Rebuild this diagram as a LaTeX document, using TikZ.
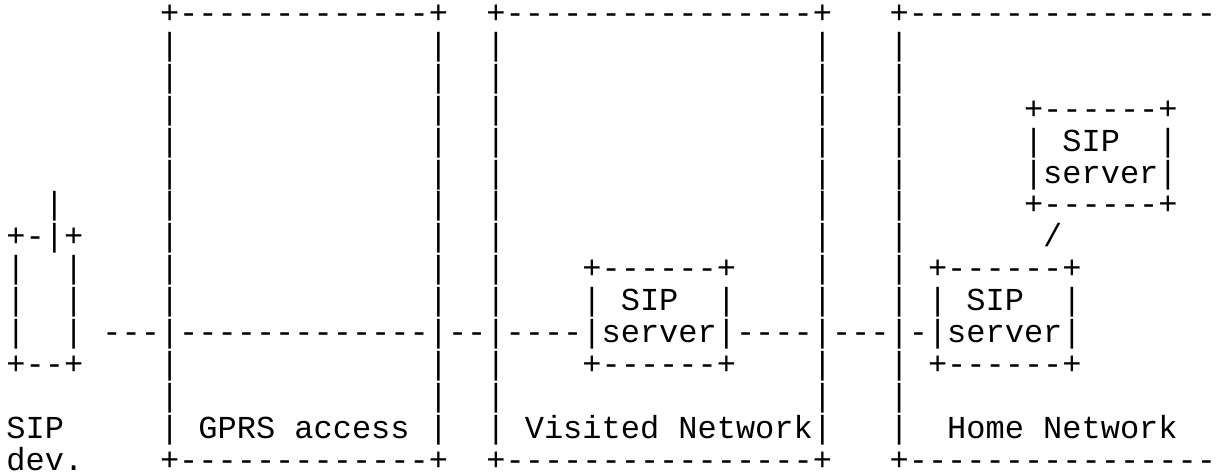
\documentclass[tikz,border=0pt]{standalone}
\usepackage{fontspec}
\setmonofont{Liberation Mono}
\begin{document}
\begin{tikzpicture}[x=0.5pt,y=-0.5pt,
  txt/.style={anchor=base west,inner sep=0pt,outer sep=0pt,
    font=\ttfamily\fontsize{16}{16}\selectfont}]
\useasboundingbox[fill=white] (0,0) rectangle (1225,472);
% column c, row r -> position
\newcommand\seg[4]{\node[txt] (#1) at ({6.4+19.2*#3},{23.5+31.9*#2}) {#4};}
% network borders (top and bottom)
\seg{gprsTop}{0}{8}{+-------------+}
\seg{visTop}{0}{25}{+----------------+}
\seg{homeTop}{0}{46}{+----------------}
\seg{gprsBot}{14}{8}{+-------------+}
\seg{visBot}{14}{25}{+----------------+}
\seg{homeBot}{14}{46}{+----------------}
% vertical sides
\foreach \r in {1,...,13}{
  \foreach \c in {8,22,25,42,46}{
    \node[txt] (bar-\r-\c) at ({6.4+19.2*\c},{23.5+31.9*\r}) {|};
  }
}
% SIP device
\seg{antenna}{6}{2}{|}
\seg{devTop}{7}{0}{+-|+}
\seg{devA}{8}{0}{|~~|}
\seg{devB}{9}{0}{|~~|}
\seg{devC}{10}{0}{|~~|}
\seg{devBot}{11}{0}{+--+}
\seg{devLabA}{13}{0}{SIP}
\seg{devLabB}{14}{0}{dev.}
% home upper SIP server
\seg{huTop}{3}{53}{+------+}
\seg{huA}{4}{53}{|~SIP~~|}
\seg{huB}{5}{53}{|server|}
\seg{huBot}{6}{53}{+------+}
\seg{slash}{7}{54}{/}
% visited SIP server
\seg{vTop}{8}{30}{+------+}
\seg{vA}{9}{30}{|~SIP~~|}
\seg{vB}{10}{30}{|server|}
\seg{vBot}{11}{30}{+------+}
% home lower SIP server
\seg{hTop}{8}{48}{+------+}
\seg{hA}{9}{48}{|~SIP~~|}
\seg{hB}{10}{48}{|server|}
\seg{hBot}{11}{48}{+------+}
% connecting line
\seg{cA}{10}{5}{---}
\seg{cB}{10}{9}{-------------}
\seg{cC}{10}{23}{--}
\seg{cD}{10}{26}{----}
\seg{cE}{10}{38}{----}
\seg{cF}{10}{43}{---}
\seg{cG}{10}{47}{-}
% labels
\seg{gprsLab}{13}{10}{GPRS access}
\seg{visLab}{13}{27}{Visited Network}
\seg{homeLab}{13}{49}{Home Network}
\end{tikzpicture}
\end{document}
